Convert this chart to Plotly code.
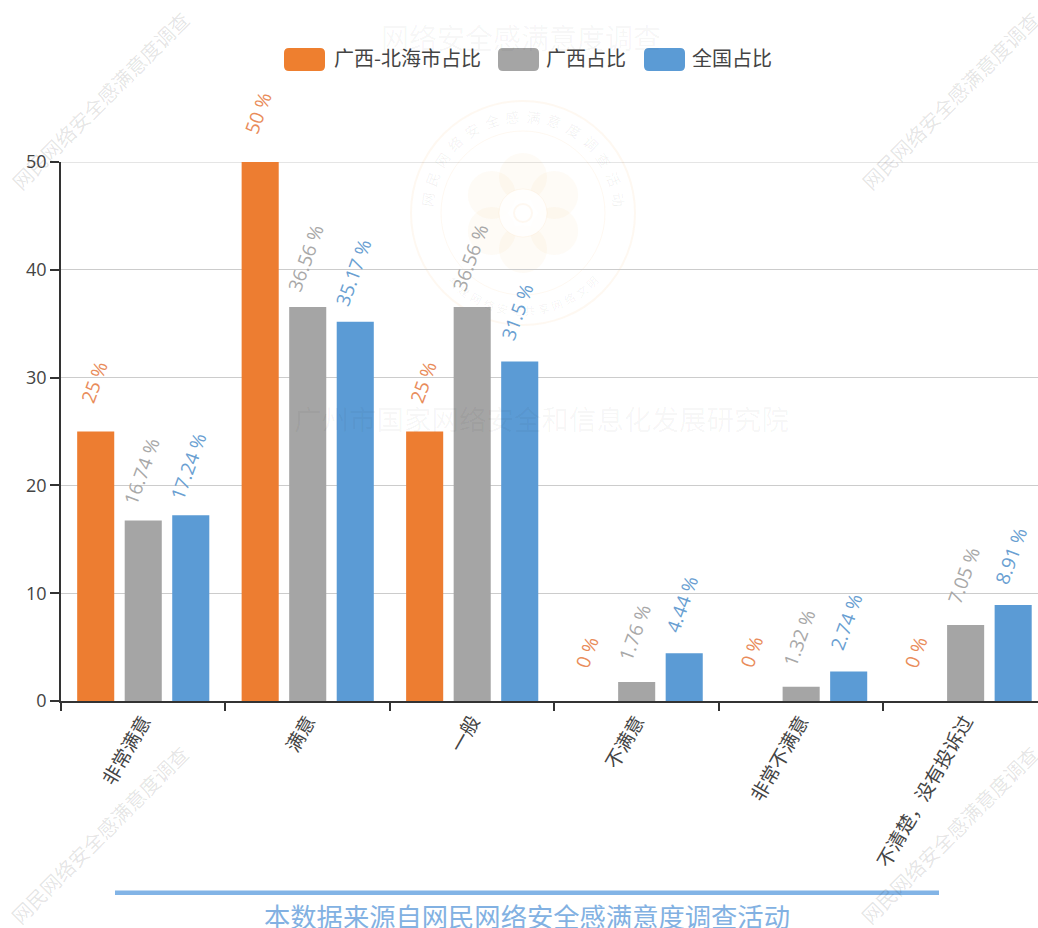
import math
import plotly.graph_objects as go

categories = ["非常满意", "满意", "一般", "不满意", "非常不满意", "不清楚，没有投诉过"]
series_names = ["广西-北海市占比", "广西占比", "全国占比"]
beihai = [25, 50, 25, 0, 0, 0]
guangxi = [16.74, 36.56, 36.56, 1.76, 1.32, 7.05]
national = [17.24, 35.17, 31.5, 4.44, 2.74, 8.91]
y_ticks = [0, 10, 20, 30, 40, 50]
series_values = [beihai, guangxi, national]
bar_colors = ["#ed7d31", "#a5a5a5", "#5b9bd5"]
legend_colors = ["#ee7f2f", "#a5a5a5", "#5b9bd5"]
label_colors = ["#e98c5a", "#a8a8a8", "#6a9fd2"]
title_text = "网络安全感满意度调查"
org_text = "广州市国家网络安全和信息化发展研究院"
source_text = "本数据来源自网民网络安全感满意度调查活动"
mark_text = "网民网络安全感满意度调查"
seal_top = "网民网络安全感满意度调查活动"
seal_bottom = "共建网络安全共享网络文明"

W, H = 1038, 928
L, T, B = 61, 162, 701
FONT = "Open Sans, Noto Sans CJK SC, sans-serif"
CJK = "Noto Sans CJK SC, sans-serif"
px = lambda x: (x - L) / (W - L)
py = lambda y: 1 - (y - T) / (B - T)

fig = go.Figure()
for name, vals, col in zip(series_names, series_values, bar_colors):
    fig.add_trace(go.Bar(x=categories, y=vals, name=name, marker=dict(color=col, line=dict(width=0)),
                         showlegend=False, cliponaxis=False))

annotations = []
shapes = []


def note(x, y, text, size, color, angle=0, family=CJK, xref="paper", yref="paper", **kw):
    annotations.append(dict(x=x, y=y, xref=xref, yref=yref, text=text, showarrow=False, textangle=angle,
                            font=dict(size=size, color=color, family=family), xanchor="center", yanchor="middle", **kw))


# rotated value labels, attached to each bar through the axes
spacing = 47.5 / 164.5
for s, (vals, col) in enumerate(zip(series_values, label_colors)):
    for c, v in enumerate(vals):
        note(c + (s - 1) * spacing, v, f"{v:g} %", 19, col, angle=-70, family=FONT, xref="x", yref="y",
             yshift=49, xshift=-2)

# legend
legend_boxes = [(284, 325), (498, 539), (644, 685)]
legend_text_x = [407, 586, 732]
for name, col, (x0, x1), tx in zip(series_names, legend_colors, legend_boxes, legend_text_x):
    r = 5
    y0, y1 = 48, 71
    shapes.append(dict(type="path", xref="paper", yref="paper", line=dict(width=0), fillcolor=col,
                       path=(f"M {px(x0 + r)} {py(y0)} L {px(x1 - r)} {py(y0)} Q {px(x1)} {py(y0)} {px(x1)} {py(y0 + r)} "
                             f"L {px(x1)} {py(y1 - r)} Q {px(x1)} {py(y1)} {px(x1 - r)} {py(y1)} "
                             f"L {px(x0 + r)} {py(y1)} Q {px(x0)} {py(y1)} {px(x0)} {py(y1 - r)} "
                             f"L {px(x0)} {py(y0 + r)} Q {px(x0)} {py(y0)} {px(x0 + r)} {py(y0)} Z")))
    note(px(tx), py(58), name, 20, "#444444")

# gridline on the top of the value axis
shapes.append(dict(type="line", xref="paper", yref="y", x0=0, x1=1, y0=y_ticks[-1], y1=y_ticks[-1],
                   line=dict(color="#cccccc", width=1), layer="below"))

# faint title and institute watermark
note(px(521), py(37), title_text, 28, "rgba(0,0,0,0.04)")
note(px(541), py(418), org_text, 27.5, "rgba(0,0,0,0.04)")

# diagonal corner watermarks
for cx, cy in [(100, 100), (950, 100), (100, 835), (950, 835)]:
    note(px(cx), py(cy), mark_text, 20, "rgba(0,0,0,0.11)", angle=-45)

# seal
sx, sy = 523, 213
seal_col = "rgba(240,150,60,0.07)"


def circle(cx, cy, r, fill=None, line=None, w=2):
    shapes.append(dict(type="circle", xref="paper", yref="paper", layer="below",
                       x0=px(cx - r), x1=px(cx + r), y0=py(cy + r), y1=py(cy - r),
                       fillcolor=fill or "rgba(0,0,0,0)", line=dict(color=line or "rgba(0,0,0,0)", width=w if line else 0)))


circle(sx, sy, 112, line=seal_col, w=2)
circle(sx, sy, 82, line=seal_col, w=1)
for i in range(6):
    a = 2 * math.pi * i / 6 + math.pi / 6
    circle(sx + 36 * math.cos(a), sy + 36 * math.sin(a), 24, fill="rgba(245,170,70,0.05)")
circle(sx, sy, 24, fill="rgba(255,255,255,0.8)", line=seal_col, w=1)
circle(sx, sy, 9, line=seal_col, w=2)
for i, ch in enumerate(seal_top):
    a = -172 + 164 * i / (len(seal_top) - 1)
    note(px(sx + 97 * math.cos(math.radians(a))), py(sy + 97 * math.sin(math.radians(a))), ch, 14,
         "rgba(0,0,0,0.06)", angle=a + 90)
for i, ch in enumerate(seal_bottom):
    a = 135 - 90 * i / (len(seal_bottom) - 1)
    note(px(sx + 97 * math.cos(math.radians(a))), py(sy + 97 * math.sin(math.radians(a))), ch, 11,
         "rgba(0,0,0,0.05)", angle=a - 90)

# source line and note
shapes.append(dict(type="rect", xref="paper", yref="paper", x0=px(115), x1=px(939), y0=py(895), y1=py(890.5),
                   fillcolor="#82b4e6", line=dict(width=0)))
note(px(527), py(915), source_text, 26.3, "#82b1e2")

fig.update_layout(
    width=W, height=H, autosize=False,
    margin=dict(l=L, r=0, t=T, b=H - B, pad=0),
    barmode="group", bargap=0.133, bargroupgap=0.22,
    plot_bgcolor="white", paper_bgcolor="white",
    font=dict(family=FONT, color="#444444"),
    showlegend=False, annotations=annotations, shapes=shapes,
    xaxis=dict(type="category", range=[-0.5, 5.44], tickson="boundaries", ticks="outside", ticklen=8, tickwidth=1.5,
               tickcolor="#333333", showline=True, linecolor="#333333", linewidth=1.5, tickangle=-60,
               tickfont=dict(size=19, color="#444444", family=CJK), showgrid=False, zeroline=False, automargin=False),
    yaxis=dict(range=[0, 50], tickvals=y_ticks, ticks="outside", ticklen=9, tickwidth=1.5, tickcolor="#333333",
               showline=True, linecolor="#333333", linewidth=1.5, showgrid=True, gridcolor="#cccccc", gridwidth=1,
               tickfont=dict(size=18, color="#444444", family=FONT), zeroline=False, automargin=False),
)

fig.write_html("out.html", config=dict(displayModeBar=False),
               post_script="document.body.style.margin='0';document.body.style.overflow='hidden';")
